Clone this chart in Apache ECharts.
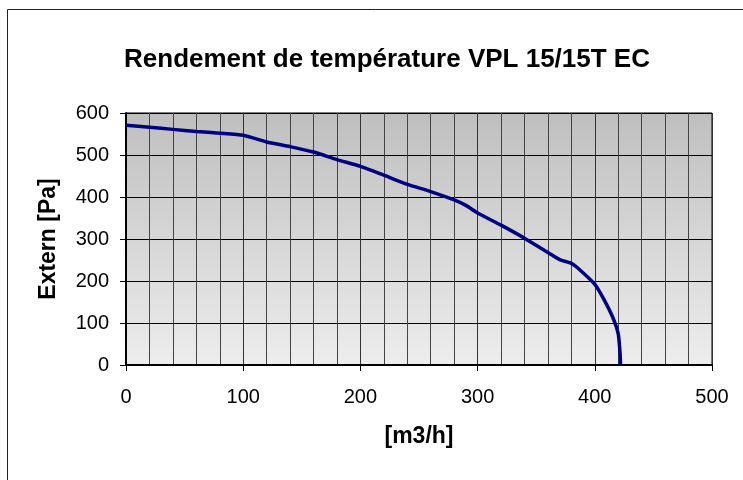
<!DOCTYPE html>
<html>
<head>
<meta charset="utf-8">
<script src="https://cdn.jsdelivr.net/npm/echarts@6/dist/echarts.min.js"></script>
<style>
  html, body { margin: 0; padding: 0; background: #fff; }
  #main { width: 743px; height: 480px; }
</style>
</head>
<body>
<div id="main"></div>
<script>
var myChart = echarts.init(document.getElementById('main'));

// debit [m3/h] en pression [Pa]
var debit = [0, 20, 40, 60, 80, 100, 120, 140, 160, 180, 200, 220, 240, 260, 280, 290, 300, 320, 340, 360, 370, 380, 385, 400, 408, 416, 420, 421.5, 422];
var pression = [571, 566, 561, 556, 552, 547, 531, 520, 507, 489, 473, 452, 430, 413, 393, 380, 362, 333, 302, 268, 251, 242, 232, 192, 155, 109, 74, 30, 0];

var points = [];
debit.forEach(function(d, i) {
  points.push([d, pression[i]]);
});

var font = 'Liberation Sans, Arial, sans-serif';

option = {
  animation: false,
  title: {
    text: 'Rendement de température VPL 15/15T EC',
    left: 382,
    top: 42,
    textAlign: 'center',
    textStyle: { fontFamily: font, fontSize: 26, fontWeight: 'bold', color: '#000' }
  },
  graphic: [{
    type: 'rect',
    shape: { x: 7.5, y: 9.5, width: 800, height: 600 },
    style: { fill: 'none', stroke: '#222', lineWidth: 1 }
  }],
  grid: {
    left: 126, right: 31, top: 113, bottom: 115,
    show: true,
    borderColor: '#000',
    borderWidth: 1,
    backgroundColor: new echarts.graphic.LinearGradient(0, 0, 0, 1, [
      { offset: 0, color: '#bfbfbf' },
      { offset: 1, color: '#ededed' }
    ])
  },
  xAxis: {
    type: 'value',
    min: 0, max: 500, interval: 100,
    name: '[m3/h]',
    nameLocation: 'middle',
    nameGap: 60,
    nameTextStyle: { fontFamily: font, fontSize: 23, fontWeight: 'bold', color: '#000' },
    axisLine: { show: true, onZero: false, lineStyle: { color: '#000', width: 2 } },
    axisTick: { show: true, length: 6, lineStyle: { color: '#000' } },
    axisLabel: { margin: 22, fontFamily: font, fontSize: 20, color: '#000' },
    splitLine: { show: true, lineStyle: { color: '#333', width: 1 } },
    minorTick: { show: false, splitNumber: 5 },
    minorSplitLine: { show: true, lineStyle: { color: '#444', width: 1 } }
  },
  yAxis: {
    type: 'value',
    min: 0, max: 600, interval: 100,
    name: 'Extern [Pa]',
    nameLocation: 'middle',
    nameGap: 66,
    nameTextStyle: { fontFamily: font, fontSize: 23, fontWeight: 'bold', color: '#000' },
    axisLine: { show: true, lineStyle: { color: '#000', width: 2 } },
    axisTick: { show: true, length: 6, lineStyle: { color: '#000' } },
    axisLabel: { margin: 17, fontFamily: font, fontSize: 20, color: '#000' },
    splitLine: { show: true, lineStyle: { color: '#000', width: 1 } }
  },
  series: [{
    type: 'line',
    data: points,
    smooth: 0.2,
    symbol: 'none',
    lineStyle: { color: '#000080', width: 3.5 }
  }]
};

myChart.setOption(option);
</script>
</body>
</html>
